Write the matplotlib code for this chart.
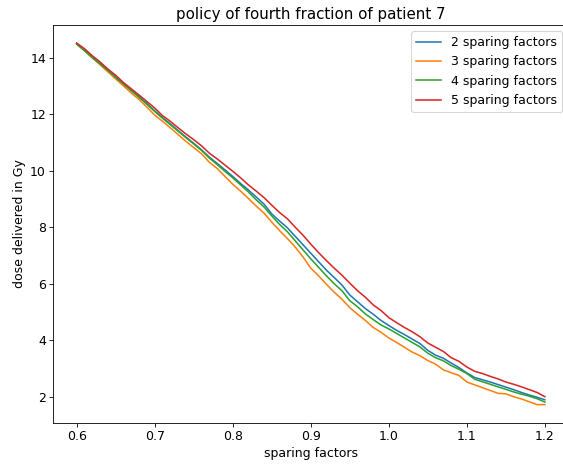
import numpy as np
from matplotlib import pyplot as plt

sparing_factors = np.round(np.arange(0.6, 1.2001, 0.01), 2)

policy_2 = [14.50, 14.27, 14.02, 13.80, 13.55, 13.32, 13.07, 12.85, 12.62, 12.38,
            12.12, 11.88, 11.66, 11.42, 11.19, 10.97, 10.74, 10.48, 10.26, 10.03,
            9.80, 9.55, 9.32, 9.07, 8.82, 8.47, 8.22, 7.98, 7.68, 7.38,
            7.08, 6.78, 6.48, 6.22, 5.95, 5.60, 5.36, 5.12, 4.92, 4.70,
            4.52, 4.35, 4.20, 4.04, 3.88, 3.64, 3.47, 3.36, 3.19, 3.03,
            2.84, 2.68, 2.60, 2.52, 2.43, 2.34, 2.25, 2.15, 2.06, 1.98,
            1.89]
policy_3 = [14.50, 14.25, 14.00, 13.75, 13.50, 13.25, 13.00, 12.75, 12.52, 12.25,
            11.97, 11.75, 11.52, 11.28, 11.04, 10.82, 10.60, 10.30, 10.08, 9.80,
            9.52, 9.28, 9.02, 8.75, 8.50, 8.18, 7.88, 7.60, 7.30, 6.95,
            6.55, 6.28, 5.98, 5.70, 5.45, 5.15, 4.92, 4.70, 4.45, 4.28,
            4.08, 3.92, 3.75, 3.58, 3.45, 3.28, 3.15, 2.95, 2.85, 2.75,
            2.52, 2.42, 2.32, 2.22, 2.12, 2.10, 2.00, 1.92, 1.82, 1.72,
            1.72]
policy_4 = [14.48, 14.25, 14.00, 13.78, 13.55, 13.30, 13.07, 12.83, 12.60, 12.35,
            12.10, 11.86, 11.63, 11.40, 11.17, 10.95, 10.72, 10.45, 10.22, 9.98,
            9.75, 9.50, 9.25, 8.97, 8.72, 8.40, 8.10, 7.84, 7.52, 7.20,
            6.88, 6.58, 6.28, 6.00, 5.75, 5.40, 5.18, 4.93, 4.73, 4.54,
            4.40, 4.24, 4.08, 3.92, 3.76, 3.54, 3.38, 3.27, 3.10, 2.97,
            2.82, 2.62, 2.53, 2.44, 2.35, 2.26, 2.17, 2.09, 2.02, 1.93,
            1.81]
policy_5 = [14.52, 14.32, 14.07, 13.85, 13.60, 13.38, 13.12, 12.90, 12.68, 12.45,
            12.22, 11.95, 11.75, 11.52, 11.30, 11.10, 10.88, 10.62, 10.42, 10.20,
            9.98, 9.75, 9.50, 9.28, 9.05, 8.78, 8.52, 8.30, 8.00, 7.72,
            7.40, 7.10, 6.82, 6.55, 6.30, 6.02, 5.75, 5.52, 5.25, 5.05,
            4.80, 4.62, 4.45, 4.30, 4.12, 3.90, 3.75, 3.60, 3.38, 3.25,
            3.05, 2.90, 2.82, 2.72, 2.63, 2.52, 2.44, 2.35, 2.25, 2.15,
            2.00]

labels = ['2 sparing factors', '3 sparing factors', '4 sparing factors', '5 sparing factors']

plt.rcParams['font.size'] = 12
fig = plt.figure(figsize=(563 / 75, 468 / 75), dpi=75)
ax = fig.add_axes([53.3 / 563, 45.3 / 468, 515 / 563, 397.7 / 468])
for policy, label in zip([policy_2, policy_3, policy_4, policy_5], labels):
    ax.plot(sparing_factors, policy, label=label)
ax.set_xlabel('sparing factors')
ax.set_ylabel('dose delivered in Gy')
ax.set_title('policy of fourth fraction of patient 7')
ax.legend(loc='upper right')
fig.savefig('out.png', dpi=75)
